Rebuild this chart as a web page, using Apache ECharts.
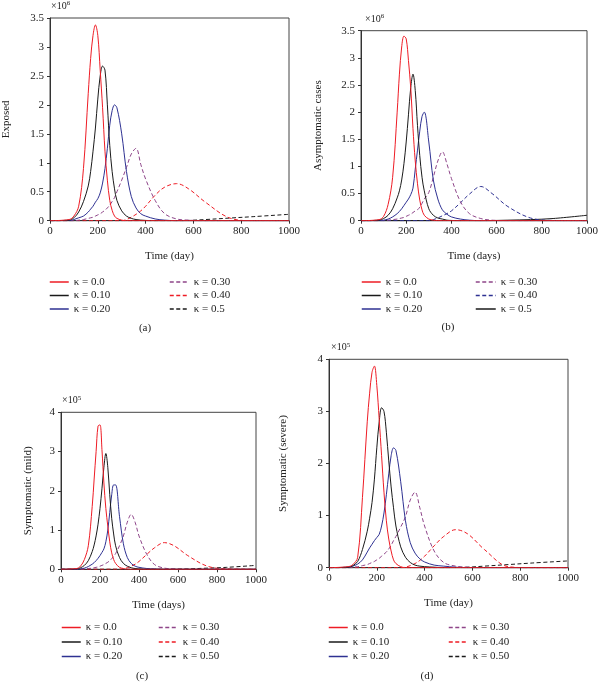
<!DOCTYPE html>
<html>
<head>
<meta charset="utf-8">
<script src="https://cdn.jsdelivr.net/npm/echarts@6/dist/echarts.min.js"></script>
<style>
html,body{margin:0;padding:0;background:#fff;}
#chart{width:601px;height:684px;}
</style>
</head>
<body>
<div id="chart"></div>
<script>
// Shared time grid (days)
const days = [0, 80, 100, 120, 140, 160, 170, 180, 190, 200, 210, 220, 230, 240, 250, 260, 270, 280, 300, 320, 340, 360, 380, 400, 440, 480, 530, 580, 650, 750, 850, 1000];

// x tick labels
const xTicks = [0, 200, 400, 600, 800, 1000];

// Panel (a) Exposed, x10^6
const redA     = [0, .02, .08, .25, .9, 2.2, 2.8, 3.2, 3.38, 3.2, 2.6, 1.95, 1.2, .7, .35, .18, .08, .04, .01, 0, 0, 0, 0, 0, 0, 0, 0, 0, 0, 0, 0, 0];
const blackA   = [0, .01, .05, .15, .33, .6, .85, 1.2, 1.6, 2.1, 2.5, 2.67, 2.6, 2.0, 1.3, .85, .55, .35, .17, .08, .04, .02, .01, .005, 0, 0, 0, 0, 0, 0, 0, 0];
const blueA    = [0, 0, .02, .05, .08, .15, .2, .25, .32, .38, .48, .65, .9, 1.25, 1.65, 1.9, 2.0, 1.95, 1.5, .85, .42, .22, .12, .08, .03, .01, 0, 0, 0, 0, 0, 0];
const purpleA  = [0, 0, 0, .01, .02, .04, .05, .06, .08, .1, .12, .15, .18, .22, .27, .33, .4, .5, .7, .92, 1.15, 1.25, .97, .72, .35, .12, .03, .01, 0, 0, 0, 0];
const redDashA = [0, 0, 0, 0, 0, 0, 0, 0, 0, 0, 0, 0, 0, 0, 0, 0, 0, 0, 0, .02, .06, .11, .17, .25, .44, .58, .64, .55, .32, .05, 0, 0];
const blkDashA = [0, 0, 0, 0, 0, 0, 0, 0, 0, 0, 0, 0, 0, 0, 0, 0, 0, 0, 0, 0, 0, 0, 0, 0, 0, 0, 0, .005, .02, .045, .07, .11];
const labelsA  = ['κ = 0.0', 'κ = 0.10', 'κ = 0.20', 'κ = 0.30', 'κ = 0.40', 'κ = 0.5'];

// Panel (b) Asymptomatic cases, x10^6
const redB     = [0, .02, .08, .3, .8, 2.0, 2.7, 3.2, 3.4, 3.35, 2.95, 2.45, 1.7, 1.1, .68, .38, .2, .1, .03, .01, 0, 0, 0, 0, 0, 0, 0, 0, 0, 0, 0, 0];
const blackB   = [0, .01, .04, .1, .22, .42, .55, .75, 1.05, 1.45, 1.95, 2.45, 2.7, 2.4, 1.75, 1.2, .8, .55, .22, .1, .05, .03, .01, .005, 0, 0, 0, 0, 0, 0, 0, 0];
const blueB    = [0, 0, .01, .03, .07, .13, .17, .22, .28, .34, .4, .48, .6, .95, 1.3, 1.65, 1.92, 2.0, 1.45, .75, .4, .2, .12, .07, .03, .01, 0, 0, 0, 0, 0, 0];
const purpleB  = [0, 0, 0, .01, .02, .03, .04, .05, .06, .08, .1, .12, .15, .18, .2, .25, .32, .4, .52, .8, 1.1, 1.27, 1.05, .78, .35, .13, .04, .01, 0, 0, 0, 0];
const blueDashB= [0, 0, 0, 0, 0, 0, 0, 0, 0, 0, 0, 0, 0, 0, 0, 0, 0, 0, 0, .02, .05, .09, .13, .18, .33, .49, .63, .5, .26, .05, .005, 0];
const blackB5  = [0, 0, 0, 0, 0, 0, 0, 0, 0, 0, 0, 0, 0, 0, 0, 0, 0, 0, 0, 0, 0, 0, 0, 0, 0, 0, 0, .003, .01, .02, .04, .1];
const labelsB  = ['κ = 0.0', 'κ = 0.10', 'κ = 0.20', 'κ = 0.30', 'κ = 0.40', 'κ = 0.5'];

// Panel (c) Symptomatic (mild), x10^5
const redC     = [0, .02, .08, .25, .6, 1.6, 2.3, 3.0, 3.65, 3.68, 3.05, 2.2, 1.55, 1.1, .7, .42, .25, .15, .05, .02, 0, 0, 0, 0, 0, 0, 0, 0, 0, 0, 0, 0];
const blackC   = [0, .01, .04, .1, .22, .45, .62, .85, 1.15, 1.55, 2.05, 2.6, 2.95, 2.6, 1.9, 1.3, .9, .6, .3, .15, .08, .04, .02, .01, 0, 0, 0, 0, 0, 0, 0, 0];
const blueC    = [0, 0, .01, .03, .07, .13, .17, .22, .28, .35, .43, .52, .7, 1.0, 1.45, 1.9, 2.15, 2.15, 1.35, .65, .3, .15, .08, .05, .02, .01, 0, 0, 0, 0, 0, 0];
const purpleC  = [0, 0, 0, .01, .02, .03, .04, .05, .06, .08, .1, .12, .15, .18, .22, .27, .33, .4, .6, .85, 1.2, 1.4, 1.2, .85, .38, .12, .03, .01, 0, 0, 0, 0];
const redDashC = [0, 0, 0, 0, 0, 0, 0, 0, 0, 0, 0, 0, 0, 0, 0, 0, 0, 0, 0, .01, .04, .08, .13, .2, .38, .55, .68, .6, .35, .08, .01, 0];
const blkDashC = [0, 0, 0, 0, 0, 0, 0, 0, 0, 0, 0, 0, 0, 0, 0, 0, 0, 0, 0, 0, 0, 0, 0, 0, 0, 0, 0, .003, .01, .03, .05, .1];
const labelsC  = ['κ = 0.0', 'κ = 0.10', 'κ = 0.20', 'κ = 0.30', 'κ = 0.40', 'κ = 0.50'];

// Panel (d) Symptomatic (severe), x10^5
const redD     = [0, .02, .06, .2, 1.35, 2.8, 3.35, 3.75, 3.87, 3.5, 2.85, 2.15, 1.45, .9, .55, .32, .15, .08, .02, 0, 0, 0, 0, 0, 0, 0, 0, 0, 0, 0, 0, 0];
const blackD   = [0, .01, .04, .12, .35, .7, .95, 1.25, 1.7, 2.3, 2.8, 3.07, 3.0, 2.6, 2.05, 1.55, 1.15, .8, .4, .2, .1, .05, .03, .02, .01, 0, 0, 0, 0, 0, 0, 0];
const blueD    = [0, .01, .03, .07, .15, .3, .38, .45, .52, .58, .64, .8, 1.05, 1.4, 1.8, 2.15, 2.3, 2.25, 1.65, .9, .48, .28, .17, .11, .05, .03, .01, 0, 0, 0, 0, 0];
const purpleD  = [0, 0, .01, .02, .04, .06, .08, .1, .12, .15, .18, .22, .26, .3, .36, .43, .52, .6, .78, .98, 1.3, 1.45, 1.15, .8, .32, .1, .03, .01, 0, 0, 0, 0];
const redDashD = [0, 0, 0, 0, 0, 0, 0, 0, 0, 0, 0, 0, 0, 0, 0, 0, 0, 0, 0, .01, .04, .08, .14, .22, .42, .6, .73, .65, .35, .02, 0, 0];
const blkDashD = [0, 0, 0, 0, 0, 0, 0, 0, 0, 0, 0, 0, 0, 0, 0, 0, 0, 0, 0, 0, 0, 0, 0, 0, 0, 0, .005, .01, .03, .06, .09, .13];
const labelsD  = ['κ = 0.0', 'κ = 0.10', 'κ = 0.20', 'κ = 0.30', 'κ = 0.40', 'κ = 0.50'];

const FONT = 'Liberation Serif';
const RED = '#ee1c25', BLACK = '#1a1a1a', BLUE = '#2e3192', PURPLE = '#8e4589';
const DASH = [4, 2.5];

const panels = [
  { key: 'a', grid: { left: 50, top: 11.3, width: 239, height: 209.4 }, yMax: 3.5, yInt: 0.5, exp: '6',
    yName: 'Exposed', yGap: 38, xName: 'Time (day)', xGap: 30, expPad: [0, 0, 0, 1],
    series: [redA, blackA, blueA, purpleA, redDashA, blkDashA], labels: labelsA,
    styles: [[RED, 'solid'], [BLACK, 'solid'], [BLUE, 'solid'], [PURPLE, DASH], [RED, DASH], [BLACK, DASH]],
    leg: { top: 276, c1: 49, c2: 169, w1: 19, w2: 19, gap: 1.5 }, cap: { text: '(a)', x: 145, y: 323 } },
  { key: 'b', grid: { left: 361, top: 30.7, width: 229, height: 190 }, yMax: 3.5, yInt: 0.5, exp: '6',
    yName: 'Asymptomatic cases', yGap: 37, xName: 'Time (days)', xGap: 30, expPad: [0, 0, 0, 4],
    series: [redB, blackB, blueB, purpleB, blueDashB, blackB5], labels: labelsB,
    styles: [[RED, 'solid'], [BLACK, 'solid'], [BLUE, 'solid'], [PURPLE, DASH], [BLUE, DASH], [BLACK, 'solid']],
    leg: { top: 276, c1: 361, c2: 475, w1: 19, w2: 20, gap: 1.5 }, cap: { text: '(b)', x: 448, y: 322 } },
  { key: 'c', grid: { left: 61, top: 412.3, width: 195, height: 157 }, yMax: 4, yInt: 1, exp: '5',
    yName: 'Symptomatic (mild)', yGap: 27, xName: 'Time (days)', xGap: 30, expPad: [0, 0, 0, 1],
    series: [redC, blackC, blueC, purpleC, redDashC, blkDashC], labels: labelsC,
    styles: [[RED, 'solid'], [BLACK, 'solid'], [BLUE, 'solid'], [PURPLE, DASH], [RED, DASH], [BLACK, DASH]],
    leg: { top: 621.5, c1: 61, c2: 158, w1: 19, w2: 19, gap: 2.5 }, cap: { text: '(c)', x: 142, y: 671 } },
  { key: 'd', grid: { left: 329, top: 359.3, width: 239, height: 208.4 }, yMax: 4, yInt: 1, exp: '5',
    yName: 'Symptomatic (severe)', yGap: 40, xName: 'Time (day)', xGap: 30, expPad: [0, 0, 0, 2],
    series: [redD, blackD, blueD, purpleD, redDashD, blkDashD], labels: labelsD,
    styles: [[RED, 'solid'], [BLACK, 'solid'], [BLUE, 'solid'], [PURPLE, DASH], [RED, DASH], [BLACK, DASH]],
    leg: { top: 621.5, c1: 328, c2: 448, w1: 19, w2: 19, gap: 2.5 }, cap: { text: '(d)', x: 427, y: 671 } }
];

const option = {
  animation: false,
  backgroundColor: '#fff',
  textStyle: { fontFamily: FONT },
  grid: [], xAxis: [], yAxis: [], series: [], legend: [], title: []
};

panels.forEach((p, gi) => {
  option.grid.push(Object.assign({ show: true, borderColor: '#444', borderWidth: 1, containLabel: false }, p.grid));
  option.xAxis.push({
    gridIndex: gi, type: 'value', min: xTicks[0], max: xTicks[xTicks.length - 1], interval: xTicks[1] - xTicks[0],
    axisLine: { show: true, onZero: false, lineStyle: { color: '#333', width: 1 } },
    axisTick: { show: true, length: 3, lineStyle: { color: '#333' } },
    axisLabel: { fontFamily: FONT, fontSize: 11, color: '#222', margin: 5, formatter: v => String(v) },
    splitLine: { show: false },
    name: p.xName, nameLocation: 'middle', nameGap: p.xGap,
    nameTextStyle: { fontFamily: FONT, fontSize: 11, color: '#222' }
  });
  option.yAxis.push({
    gridIndex: gi, type: 'value', min: 0, max: p.yMax, interval: p.yInt,
    axisLine: { show: true, onZero: false, lineStyle: { color: '#333', width: 1 } },
    axisTick: { show: true, length: 3, lineStyle: { color: '#333' } },
    axisLabel: { fontFamily: FONT, fontSize: 11, color: '#222', margin: 6, formatter: v => String(v) },
    splitLine: { show: false },
    name: p.yName, nameLocation: 'middle', nameGap: p.yGap, nameRotate: 90,
    nameTextStyle: { fontFamily: FONT, fontSize: 11, color: '#222' }
  });
  // exponent label as a second (invisible) y axis name
  option.yAxis.push({
    gridIndex: gi, type: 'value', min: 0, max: p.yMax, interval: p.yInt, position: 'left',
    axisLine: { show: false }, axisTick: { show: false }, axisLabel: { show: false }, splitLine: { show: false },
    name: '×10{s|' + p.exp + '}', nameLocation: 'end', nameGap: 5,
    nameTextStyle: { fontFamily: FONT, fontSize: 10, color: '#222', align: 'left', verticalAlign: 'bottom', padding: p.expPad,
      rich: { s: { fontFamily: FONT, fontSize: 7, color: '#222', verticalAlign: 'top', padding: [0, 0, 6, 0] } } }
  });
  const names = p.labels.map(l => p.key + '|' + l);
  p.series.forEach((vals, si) => {
    option.series.push({
      name: names[si], type: 'line', xAxisIndex: gi, yAxisIndex: gi * 2,
      data: days.map((d, i) => [d, vals[i]]),
      showSymbol: false, symbol: 'none', smooth: 0.35, clip: true,
      lineStyle: { color: p.styles[si][0], type: p.styles[si][1], width: 1 },
      itemStyle: { color: p.styles[si][0] },
      z: 10 - si
    });
  });
  const legCommon = {
    orient: 'vertical', top: p.leg.top, itemHeight: 12, itemGap: p.leg.gap, padding: 0,
    selectedMode: false, formatter: n => n.split('|')[1],
    textStyle: { fontFamily: FONT, fontSize: 11, color: '#222', lineHeight: 12 },
    itemStyle: { opacity: 0, borderWidth: 0 },
    lineStyle: { width: 1.5 }
  };
  option.legend.push(Object.assign({}, legCommon, { left: p.leg.c1, itemWidth: p.leg.w1, data: names.slice(0, 3) }));
  option.legend.push(Object.assign({}, legCommon, { left: p.leg.c2, itemWidth: p.leg.w2, data: names.slice(3, 6) }));
  option.title.push({ text: p.cap.text, left: p.cap.x, top: p.cap.y, textAlign: 'center', padding: 0,
    textStyle: { fontFamily: FONT, fontSize: 11, fontWeight: 'normal', color: '#222' } });
});

const chart = echarts.init(document.getElementById('chart'), null, { renderer: 'canvas' });
chart.setOption(option);
</script>
</body>
</html>
